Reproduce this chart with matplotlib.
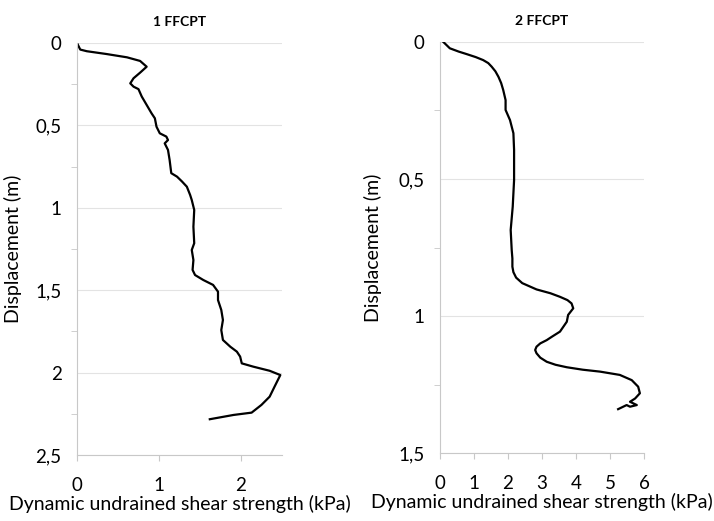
import numpy as np
import matplotlib
matplotlib.use("Agg")
import matplotlib.pyplot as plt
from matplotlib.ticker import MultipleLocator, FuncFormatter

# 1 FFCPT: shear strength (kPa) vs displacement (m)
su_1 = [0.00, 0.04, 0.12, 0.36, 0.61, 0.77, 0.85, 0.77, 0.69, 0.65, 0.69, 0.75,
        0.79, 0.85, 0.91, 0.95, 0.97, 1.01, 1.09, 1.11, 1.07, 1.11, 1.13, 1.15,
        1.22, 1.28, 1.34, 1.38, 1.40, 1.43, 1.42, 1.43, 1.40, 1.42, 1.41, 1.44,
        1.54, 1.66, 1.72, 1.72, 1.76, 1.78, 1.76, 1.78, 1.87, 1.95, 1.99, 2.01,
        2.15, 2.35, 2.48, 2.45, 2.41, 2.35, 2.25, 2.13, 1.91, 1.62]
disp_1 = [0.000, 0.040, 0.050, 0.067, 0.087, 0.109, 0.144, 0.180, 0.214, 0.245, 0.265, 0.280,
          0.325, 0.376, 0.427, 0.457, 0.508, 0.548, 0.568, 0.589, 0.609, 0.649, 0.710, 0.790,
          0.811, 0.840, 0.872, 0.922, 0.953, 1.013, 1.115, 1.215, 1.256, 1.317, 1.377, 1.408,
          1.438, 1.468, 1.509, 1.560, 1.620, 1.681, 1.742, 1.802, 1.843, 1.873, 1.903, 1.944,
          1.964, 1.989, 2.015, 2.045, 2.085, 2.146, 2.196, 2.243, 2.257, 2.283]

# 2 FFCPT
su_2 = [0.10, 0.29, 0.55, 0.78, 1.05, 1.27, 1.42, 1.52, 1.63, 1.72, 1.80, 1.86,
        1.93, 1.93, 2.06, 2.16, 2.18, 2.18, 2.14, 2.08, 2.11, 2.13, 2.13, 2.16,
        2.24, 2.42, 2.84, 3.25, 3.53, 3.75, 3.87, 3.92, 3.77, 3.73, 3.53, 3.30,
        3.14, 2.95, 2.84, 2.80, 2.84, 2.95, 3.14, 3.40, 3.73, 4.20, 4.71, 5.29,
        5.64, 5.83, 5.88, 5.74, 5.59, 5.79, 5.59, 5.49, 5.24]
disp_2 = [0.000, 0.023, 0.035, 0.044, 0.055, 0.066, 0.077, 0.090, 0.107, 0.127, 0.150, 0.175,
          0.212, 0.248, 0.285, 0.333, 0.394, 0.504, 0.601, 0.686, 0.759, 0.790, 0.820, 0.840,
          0.860, 0.880, 0.903, 0.917, 0.930, 0.942, 0.954, 0.972, 0.996, 1.021, 1.057, 1.075,
          1.088, 1.100, 1.112, 1.124, 1.136, 1.152, 1.167, 1.178, 1.187, 1.196, 1.203, 1.215,
          1.234, 1.258, 1.282, 1.301, 1.313, 1.325, 1.331, 1.325, 1.340]

plt.rcParams['font.family'] = ['Lato', 'DejaVu Sans']

fig = plt.figure(figsize=(7.14, 5.21), dpi=100)
ax1 = fig.add_axes([0.1078, 0.1267, 0.2871, 0.7908])
ax2 = fig.add_axes([0.6162, 0.1305, 0.2857, 0.7889])

comma = FuncFormatter(lambda v, p: ('%g' % v).replace('.', ','))

def style(ax, title, xmax, ymax, ylab_x):
    ax.set_xlim(0, xmax)
    ax.set_ylim(ymax, 0)
    ax.xaxis.set_major_locator(MultipleLocator(1))
    ax.yaxis.set_major_locator(MultipleLocator(0.5))
    ax.yaxis.set_minor_locator(MultipleLocator(0.25))
    ax.yaxis.set_major_formatter(comma)
    ax.grid(axis='y', color='#e3e3e3', linewidth=0.8)
    ax.set_axisbelow(True)
    for s in ['top', 'right']:
        ax.spines[s].set_visible(False)
    for s in ['left', 'bottom']:
        ax.spines[s].set_color('#c8c8c8')
    ax.tick_params(axis='both', which='major', labelsize=13.5, color='#c8c8c8')
    ax.tick_params(axis='y', which='major', length=0, pad=11)
    ax.tick_params(axis='y', which='minor', length=4, color='#c8c8c8')
    ax.tick_params(axis='x', which='major', length=4, pad=12)
    ax.set_title(title, fontsize=10, fontweight='bold', pad=12)
    ax.set_xlabel('Dynamic undrained shear strength (kPa)', fontsize=14)
    ax.set_ylabel('Displacement (m)', fontsize=14)
    ax.xaxis.set_label_coords(0.5, -0.097)
    ax.yaxis.set_label_coords(ylab_x, 0.5)

ax1.plot(su_1, disp_1, color='black', linewidth=1.6)
style(ax1, '1 FFCPT', 2.5, 2.5, -0.268)

ax2.plot(su_2, disp_2, color='black', linewidth=1.6)
style(ax2, '2 FFCPT', 6, 1.5, -0.284)

fig.savefig('out.png', dpi=100)
